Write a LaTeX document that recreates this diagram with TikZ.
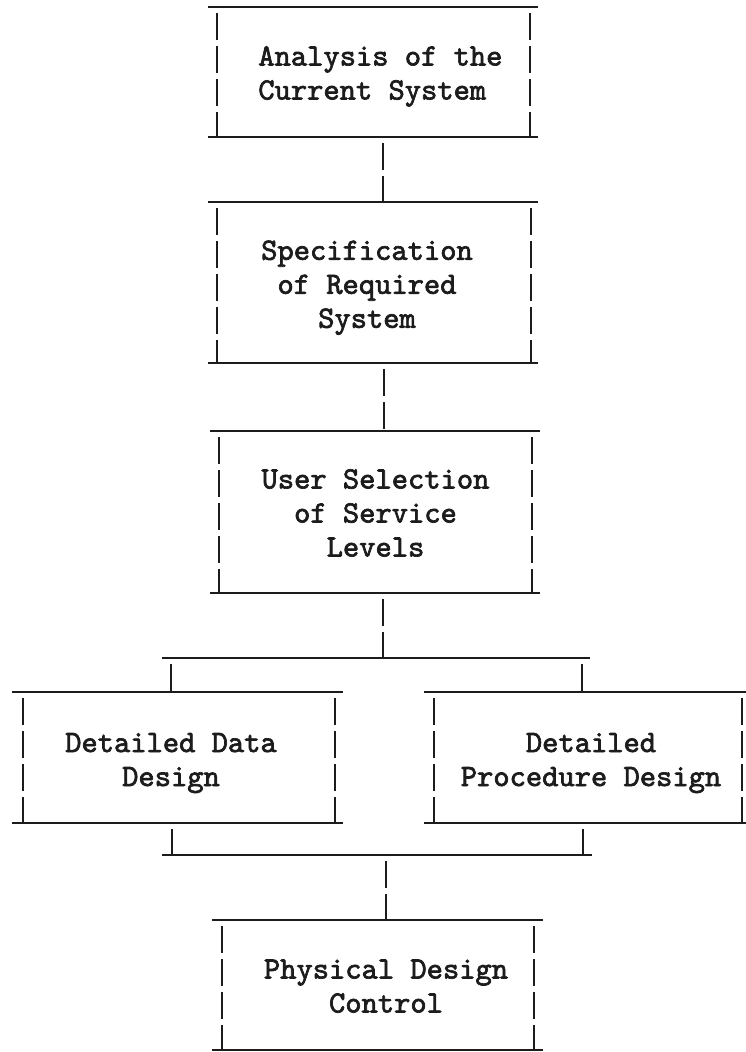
\documentclass[tikz,border=0pt]{standalone}
\usepackage{fontspec}
\newfontfamily\typefont{lmmono10-regular.otf}[FakeBold=2.2]
\definecolor{ink}{HTML}{1C1C1C}
\begin{document}
\begin{tikzpicture}[x=1pt,y=-1pt,
  frame/.style={draw=none, inner sep=0pt, outer sep=0pt},
  boxtext/.style={inner sep=0pt, text=ink, align=center,
    font=\fontsize{31}{34}\selectfont\typefont},
  hbar/.style={draw=ink, line width=2.3pt, line cap=butt},
  vbar/.style={draw=ink, line width=2.1pt, line cap=butt,
    dash pattern=on 27pt off 6pt, dash phase=27pt}]
\useasboundingbox (0,0) rectangle (745,1052);

% frames of the six boxes (side lines are the node's west and east edges)
\node[frame, minimum width=313pt, minimum height=130pt] (b1) at (373.5,72) {};
\node[frame, minimum width=314pt, minimum height=161pt] (b2) at (374,282.5) {};
\node[frame, minimum width=313pt, minimum height=162pt] (b3) at (375.5,512) {};
\node[frame, minimum width=312pt, minimum height=131pt] (b4) at (179,757.5) {};
\node[frame, minimum width=308pt, minimum height=131pt] (b5) at (588,757.5) {};
\node[frame, minimum width=312pt, minimum height=130pt] (b6) at (378,985) {};

% box outlines: solid top and bottom rules that overhang, broken sides
\foreach \b/\l/\r in {b1/9/8, b2/9/7, b3/9/8, b4/11/8, b5/10/5, b6/10/9}{
  \draw[hbar] ([xshift=-\l pt]\b.north west) -- ([xshift=\r pt]\b.north east);
  \draw[hbar] ([xshift=-\l pt]\b.south west) -- ([xshift=\r pt]\b.south east);
  \draw[vbar] (\b.north west) -- (\b.south west);
  \draw[vbar] (\b.north east) -- (\b.south east);
}

% box texts
\node[boxtext, align=left] (t1) at (380.4,75.7)
  {\strut Analysis of the\\\strut Current System};
\node[boxtext] (t2) at (367,287)
  {\strut Specification\\\strut of Required\\\strut System};
\node[boxtext] (t3) at (375.5,515.7)
  {\strut User Selection\\\strut of Service\\\strut Levels};
\node[boxtext] (t4) at (171,762.2)
  {\strut Detailed Data\\\strut Design};
\node[boxtext] (t5) at (591,762.2)
  {\strut Detailed\\\strut Procedure Design};
\node[boxtext] (t6) at (386,988.7)
  {\strut Physical Design\\\strut Control};

% branching and joining bars
\coordinate (splitL) at (162,658);
\coordinate (splitR) at (590,658);
\coordinate (joinL) at (162,855);
\coordinate (joinR) at (592,855);
\draw[hbar] (splitL) -- (splitR);
\draw[hbar] (joinL) -- (joinR);

% connectors
\draw[vbar] (b1.south -| 383,0) -- (b2.north -| 383,0);
\draw[vbar] (b2.south -| 384,0) -- (b3.north -| 384,0);
\draw[vbar] (b3.south -| 383,0) -- (splitL -| 383,0);
\draw[vbar] (splitL -| 171,0) -- (b4.north -| 171,0);
\draw[vbar] (splitR -| 582,0) -- (b5.north -| 582,0);
\draw[vbar] (b4.south -| 172,0) -- (joinL -| 172,0);
\draw[vbar] (b5.south -| 583,0) -- (joinR -| 583,0);
\draw[vbar] (joinL -| 386,0) -- (b6.north -| 386,0);
\end{tikzpicture}
\end{document}
